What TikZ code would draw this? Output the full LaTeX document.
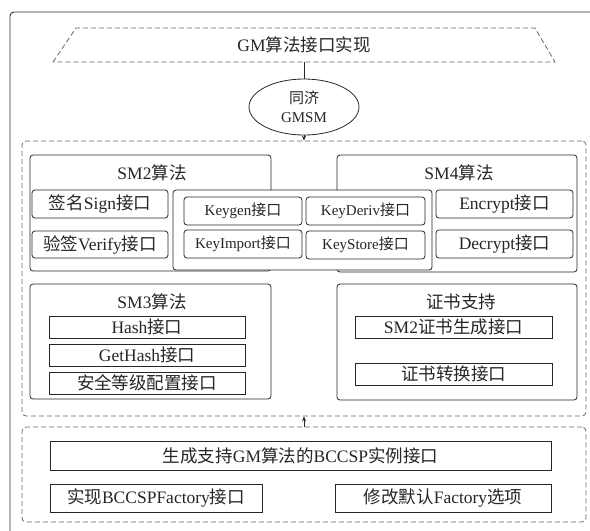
\documentclass[tikz,border=0pt]{standalone}
\usepackage{fontspec}
\setmainfont{Liberation Serif}
\newfontfamily\cjk{Noto Sans CJK SC}
\newcommand\C[1]{{\cjk #1}}
\usetikzlibrary{shapes.geometric,arrows.meta}
\begin{document}
\begin{tikzpicture}[x=1pt,y=-1pt,
  rbox/.style={draw=black!85, line width=0.8pt, rounded corners=3pt, fill=white, inner sep=0pt},
  sbox/.style={draw=black!85, line width=0.8pt, fill=white, inner sep=0pt},
  dbox/.style={draw=black!60, line width=0.8pt, dash pattern=on 5pt off 3pt, rounded corners=4pt, inner sep=0pt},
  lbl/.style={font=\fontsize{17.5}{20}\selectfont, text=black!85},
  klbl/.style={font=\fontsize{15}{18}\selectfont, text=black!85},
  conn/.style={draw=black!85, line width=0.8pt},
  arr/.style={conn, -{Stealth[length=5pt,width=4pt]}}]
\useasboundingbox (0,0) rectangle (590,531);
% outer frame
\draw[black!80, line width=0.9pt, rounded corners=4pt] (10,620) -- (10,12) -- (660,12);
% top trapezoid
\draw[draw=black!60, line width=0.8pt, dash pattern=on 5pt off 3pt] (53,62) -- (76,28) -- (535,28) -- (555,62) -- cycle;
\node[lbl] (gm) at (304,45) {GM\C{算法接口实现}};
\coordinate (gmb) at (304,62);
\node[draw=black!85, line width=0.8pt, ellipse, minimum width=110pt, minimum height=56pt, inner sep=0pt, align=center, klbl] (gmsm) at (304,107) {\C{同济}\\[1pt]GMSM};
% containers
\node[dbox, minimum width=564pt, minimum height=275pt] (mid) at (304,278.5) {};
\node[dbox, minimum width=564pt, minimum height=95pt] (bot) at (304,474.5) {};
% SM2 / SM4
\node[rbox, minimum width=241pt, minimum height=116pt] (sm2) at (150.5,213) {};
\node[rbox, minimum width=240pt, minimum height=117pt] (sm4) at (457,213.5) {};
\node[rbox, minimum width=259pt, minimum height=80pt] (keys) at (302.5,230) {};
\node[lbl] (sm2t) at (152,173) {SM2\C{算法}};
\node[lbl] (sm4t) at (459,173) {SM4\C{算法}};
\node[rbox, lbl, minimum width=136pt, minimum height=28pt] (sign) at (100,204) {\C{签名}Sign\C{接口}};
\node[rbox, lbl, minimum width=136pt, minimum height=27pt] (verify) at (100,244.5) {\C{验签}Verify\C{接口}};
\node[rbox, klbl, minimum width=118pt, minimum height=28pt] (keygen) at (243,211) {Keygen\C{接口}};
\node[rbox, klbl, minimum width=118pt, minimum height=28pt] (keyimp) at (243,244) {KeyImport\C{接口}};
\node[rbox, klbl, minimum width=119pt, minimum height=28pt] (keyder) at (365.5,211) {KeyDeriv\C{接口}};
\node[rbox, klbl, minimum width=119pt, minimum height=28pt] (keysto) at (365.5,245) {KeyStore\C{接口}};
\node[rbox, lbl, minimum width=137pt, minimum height=28pt] (enc) at (504.5,204) {Encrypt\C{接口}};
\node[rbox, lbl, minimum width=137pt, minimum height=28pt] (dec) at (504.5,244) {Decrypt\C{接口}};
% SM3 / cert
\node[rbox, minimum width=241pt, minimum height=115pt] (sm3) at (150.5,341.5) {};
\node[rbox, minimum width=240pt, minimum height=116pt] (cert) at (457,342) {};
\node[lbl] (sm3t) at (152,302) {SM3\C{算法}};
\node[lbl] (certt) at (461,302) {\C{证书支持}};
\node[sbox, lbl, minimum width=196pt, minimum height=22pt] (hash) at (147,327) {Hash\C{接口}};
\node[sbox, lbl, minimum width=196pt, minimum height=22pt] (ghash) at (147,355) {GetHash\C{接口}};
\node[sbox, lbl, minimum width=196pt, minimum height=22pt] (sec) at (147,383) {\C{安全等级配置接口}};
\node[sbox, lbl, minimum width=197pt, minimum height=22pt] (sm2c) at (453.5,327) {SM2\C{证书生成接口}};
\node[sbox, lbl, minimum width=197pt, minimum height=22pt] (conv) at (453.5,374) {\C{证书转换接口}};
% bottom
\node[sbox, lbl, minimum width=501pt, minimum height=29pt] (gen) at (300.5,455.5) {\C{生成支持}GM\C{算法的}BCCSP\C{实例接口}};
\node[sbox, lbl, minimum width=212pt, minimum height=28pt] (impl) at (156,498) {\C{实现}BCCSPFactory\C{接口}};
\node[sbox, lbl, minimum width=216pt, minimum height=28pt] (mod) at (443,498) {\C{修改默认}Factory\C{选项}};
% connectors
\draw[conn] (gmb) -- (gmsm.north);
\draw[arr] (gmsm.south) -- (mid.north);
\draw[arr] (bot.north) -- (mid.south);
\end{tikzpicture}
\end{document}
